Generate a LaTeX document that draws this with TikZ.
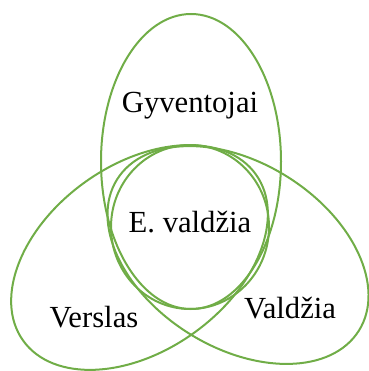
\documentclass[tikz,border=0pt]{standalone}
\usepackage{fontspec}
\setmainfont{Liberation Serif}
\usepackage{xcolor}
\definecolor{setgreen}{HTML}{70AD47}
\usetikzlibrary{positioning}

\begin{document}
\begin{tikzpicture}[x=0.75pt, y=-0.75pt,
  setline/.style={setgreen, line width=1.5pt},
  settext/.style={font=\fontsize{23}{27}\selectfont, anchor=base, inner sep=0pt}]
\useasboundingbox (0,0) rectangle (368,371);

% Set centres
\coordinate (gyv) at (191,161.5);
\coordinate (ver) at (139.5,257.5);
\coordinate (val) at (238,255);
\coordinate (ev) at (190,227);

% Sets
\draw[setline] (gyv) ellipse [x radius=90, y radius=147.5];
\draw[setline] (ver) ellipse [x radius=143, y radius=93, rotate=35.5];
\draw[setline] (val) ellipse [x radius=142.6, y radius=92.5, rotate=-32];
\draw[setline] (ev) ellipse [x radius=79, y radius=82];

% Labels
\node[settext] (gyvtext) at (190,112) {Gyventojai};
\node[settext] (evtext) at (190,232) {E. valdžia};
\node[settext] (vertext) at (94,327) {Verslas};
\node[settext] (valtext) at (290,318) {Valdžia};
\end{tikzpicture}
\end{document}
